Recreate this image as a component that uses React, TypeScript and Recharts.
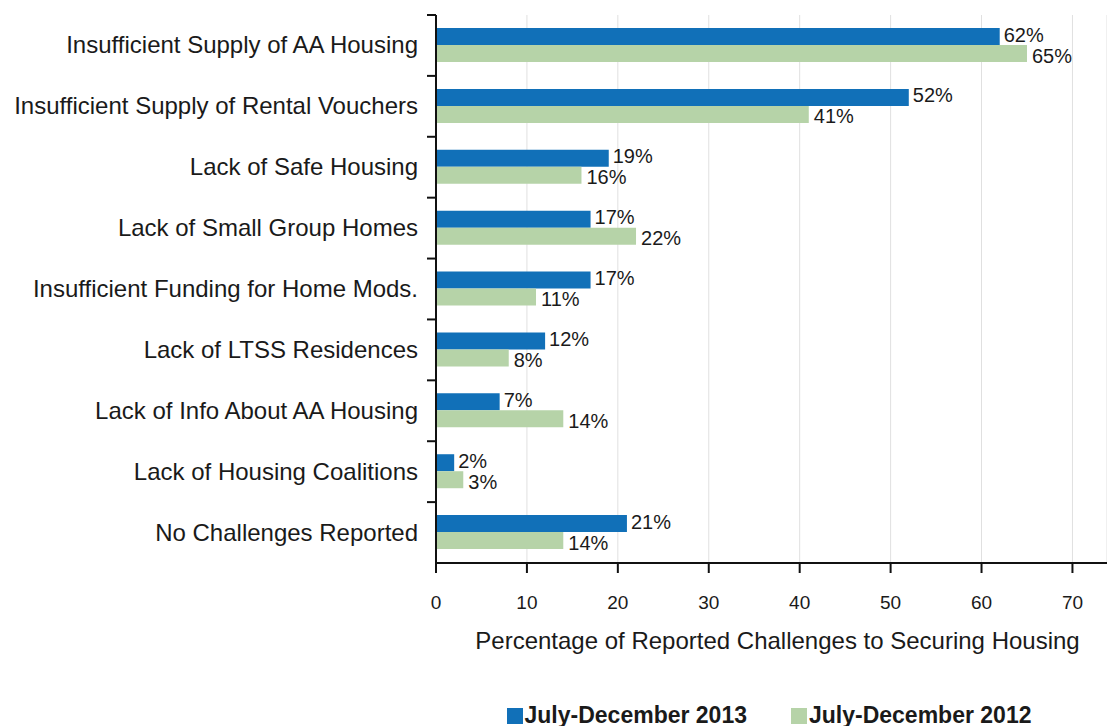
import React from "react"
import {
  BarChart,
  Bar,
  XAxis,
  YAxis,
  CartesianGrid,
  Legend,
  LabelList,
} from "recharts"

const categories = [
  "Insufficient Supply of AA Housing",
  "Insufficient Supply of Rental Vouchers",
  "Lack of Safe Housing",
  "Lack of Small Group Homes",
  "Insufficient Funding for Home Mods.",
  "Lack of LTSS Residences",
  "Lack of Info About AA Housing",
  "Lack of Housing Coalitions",
  "No Challenges Reported",
]
const values2013 = [62, 52, 19, 17, 17, 12, 7, 2, 21]
const values2012 = [65, 41, 16, 22, 11, 8, 14, 3, 14]
const xTicks = [0, 10, 20, 30, 40, 50, 60, 70]

const BLUE = "#1170b8"
const GREEN = "#b6d3a8"
const FONT = "'Liberation Sans', Arial, Helvetica, sans-serif"

const WIDTH = 1107
const HEIGHT = 726
const TOP = 15
const PLOT_BOTTOM = 563
const Y_WIDTH = 436
const LEGEND_H = 40
const X_HEIGHT = HEIGHT - PLOT_BOTTOM - LEGEND_H

const data = categories.map((name, i) => ({
  name,
  y2013: values2013[i],
  y2012: values2012[i],
}))

const band = (PLOT_BOTTOM - TOP) / categories.length

const CategoryTick = ({ x, y, payload }: any) => {
  const axisX = x + 18
  return (
    <g>
      <line x1={axisX - 9} x2={axisX} y1={y - band / 2} y2={y - band / 2} stroke="#111" strokeWidth={2} />
      <text x={x} y={y} dy={8} textAnchor="end" fill="#1a1a1a" fontSize={24} fontFamily={FONT}>
        {payload.value}
      </text>
    </g>
  )
}

const LegendContent = () => (
  <div
    style={{
      display: "flex",
      justifyContent: "center",
      gap: 44,
      fontFamily: FONT,
      fontSize: 23,
      fontWeight: 600,
      color: "#1a1a1a",
      paddingLeft: 431,
      paddingTop: 16,
    }}
  >
    <span style={{ display: "flex", alignItems: "center" }}>
      <span style={{ width: 16, height: 16, background: BLUE, marginRight: 2, display: "inline-block" }} />
      July-December 2013
    </span>
    <span style={{ display: "flex", alignItems: "center" }}>
      <span style={{ width: 16, height: 16, background: GREEN, marginRight: 2, display: "inline-block" }} />
      July-December 2012
    </span>
  </div>
)

const pct = (v: any) => `${v}%`

export default function App() {
  return (
    <div style={{ position: "absolute", left: 0, top: 0, background: "#fff" }}>
      <BarChart
        width={WIDTH}
        height={HEIGHT}
        data={data}
        layout="vertical"
        margin={{ top: TOP, right: 0, left: 0, bottom: 0 }}
        barSize={17}
        barGap={0}
      >
        <CartesianGrid horizontal={false} stroke="#e0e0e0" strokeWidth={1} />
        <XAxis
          type="number"
          domain={[0, 73.8]}
          ticks={xTicks}
          allowDataOverflow
          height={X_HEIGHT}
          axisLine={{ stroke: "#111", strokeWidth: 2 }}
          tickLine={{ stroke: "#111", strokeWidth: 2 }}
          tickSize={10}
          tickMargin={23}
          tick={{ fill: "#1a1a1a", fontSize: 19, fontFamily: FONT }}
          label={{
            value: "Percentage of Reported Challenges to Securing Housing",
            position: "insideTop",
            offset: 69,
            dx: 6,
            fill: "#1a1a1a",
            fontSize: 24,
            fontFamily: FONT,
            fontWeight: 500,
          }}
        />
        <YAxis
          type="category"
          dataKey="name"
          width={Y_WIDTH}
          axisLine={{ stroke: "#111", strokeWidth: 2 }}
          tickLine={false}
          tickSize={8}
          tickMargin={10}
          tick={<CategoryTick />}
          interval={0}
        />
        <Legend
          verticalAlign="bottom"
          height={LEGEND_H}
          content={<LegendContent />}
        />
        <Bar dataKey="y2013" name="July-December 2013" fill={BLUE} isAnimationActive={false}>
          <LabelList
            dataKey="y2013"
            position="right"
            offset={4}
            dy={-2}
            formatter={pct}
            fill="#1a1a1a"
            fontSize={20}
            fontFamily={FONT}
          />
        </Bar>
        <Bar dataKey="y2012" name="July-December 2012" fill={GREEN} isAnimationActive={false}>
          <LabelList
            dataKey="y2012"
            position="right"
            offset={5}
            dy={2}
            formatter={pct}
            fill="#1a1a1a"
            fontSize={20}
            fontFamily={FONT}
          />
        </Bar>
      </BarChart>
    </div>
  )
}
